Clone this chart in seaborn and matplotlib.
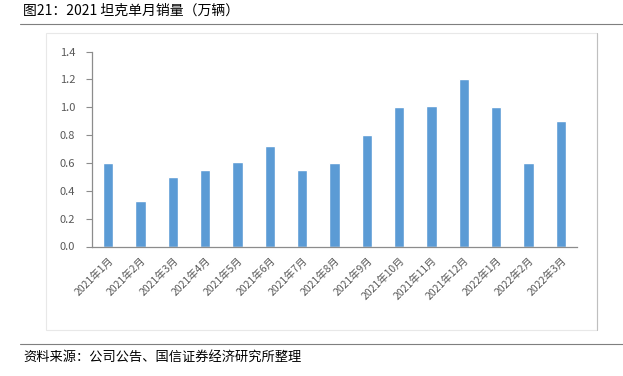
import matplotlib
matplotlib.use("Agg")
from matplotlib import pyplot as plt
from matplotlib.lines import Line2D
from matplotlib.patches import Rectangle
import seaborn as sns
import pandas as pd
import numpy as np

# 坦克单月销量（万辆）
months = ["2021年1月", "2021年2月", "2021年3月", "2021年4月", "2021年5月",
          "2021年6月", "2021年7月", "2021年8月", "2021年9月", "2021年10月",
          "2021年11月", "2021年12月", "2022年1月", "2022年2月", "2022年3月"]
sales = [0.60, 0.33, 0.50, 0.55, 0.61, 0.72, 0.55, 0.60, 0.80, 1.00,
         1.01, 1.20, 1.00, 0.60, 0.90]
yticks = [0.0, 0.2, 0.4, 0.6, 0.8, 1.0, 1.2, 1.4]

title = "图21：2021 坦克单月销量（万辆）"
source = "资料来源：公司公告、国信证券经济研究所整理"

sns.set_style("white")
plt.rcParams['font.family'] = ['Noto Sans CJK SC', 'DejaVu Sans']

bar_color = "#5B9BD5"
axis_color = "#8C8C8C"
text_color = "#595959"

fig = plt.figure(figsize=(6.23, 3.76), dpi=100)
W, H = 623, 376

# outer chart frame (faint)
fig.add_artist(Rectangle((46 / W, 1 - 330 / H), (597 - 46) / W, (330 - 33) / H,
                         transform=fig.transFigure, fill=False,
                         edgecolor="#E8E8E8", linewidth=0.8))
fig.add_artist(Line2D([597 / W, 597 / W], [1 - 330 / H, 1 - 33 / H],
                      transform=fig.transFigure, color="#BFBFBF", linewidth=0.8))

# header / footer rules
fig.add_artist(Line2D([20 / W, 1.0], [1 - 24 / H, 1 - 24 / H],
                      transform=fig.transFigure, color="#7F7F7F", linewidth=0.8))
fig.add_artist(Line2D([20 / W, 1.0], [1 - 344 / H, 1 - 344 / H],
                      transform=fig.transFigure, color="#7F7F7F", linewidth=0.8))

fig.text(23 / W, 1 - 11 / H, title, fontsize=10, color="black", va="center", ha="left")
fig.text(23 / W, 1 - 357 / H, source, fontsize=9.5, color="black", va="center", ha="left")

ax = fig.add_axes([92 / W, 1 - 246.5 / H, (577 - 92) / W, (246.5 - 51.5) / H])
df = pd.DataFrame({"month": months, "sales": sales})
sns.barplot(data=df, x="month", y="sales", color=bar_color, width=0.31,
            saturation=1, ax=ax)

ax.set_xlim(-0.5, len(months) - 0.5)
ax.set_ylim(0, 1.4)
ax.set_yticks(yticks)
ax.set_yticklabels([f"{v:.1f}" for v in yticks], fontsize=8, color=text_color)
ax.set_xlabel("")
ax.set_ylabel("")

ax.set_xticks(range(len(months)))
ax.set_xticklabels(months, rotation=45, ha="right", rotation_mode="anchor",
                   fontsize=7.5, color=text_color)
ax.set_xticks(np.arange(-0.5, len(months)), minor=True)
ax.tick_params(axis="x", which="major", length=0, pad=6)
ax.tick_params(axis="x", which="minor", length=4, color=axis_color, width=0.8)
ax.tick_params(axis="y", length=4, color=axis_color, width=0.8, pad=8, left=True)

for s in ["top", "right"]:
    ax.spines[s].set_visible(False)
for s in ["left", "bottom"]:
    ax.spines[s].set_color(axis_color)
    ax.spines[s].set_linewidth(0.9)

fig.savefig("out.png", dpi=100)
